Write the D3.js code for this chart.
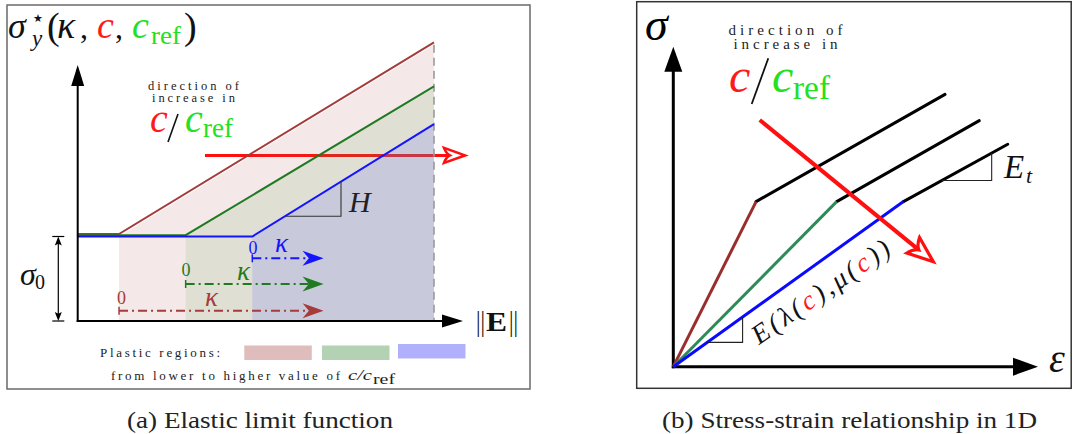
<!DOCTYPE html>
<html><head><meta charset="utf-8">
<script src="https://cdn.jsdelivr.net/npm/d3@7"></script>
<style>
html,body{margin:0;padding:0;background:#fff;}
svg{display:block;}
text{font-family:"Liberation Serif","Times New Roman",serif;}
text.sym{font-family:"DejaVu Sans",sans-serif;}
</style></head><body>
<svg id="fig" width="1073" height="434"></svg>
<script>
// ---------- panel (a): elastic limit function ----------
const regionNames   = ["lower", "middle", "higher"];   // value of c/c_ref
const plasticOnset  = [1.16, 3.03, 4.9];   // ||E|| at which κ starts (κ = 0)
const sigma0        = 1.0;                 // initial yield stress (unit)
const sigmaAtEnd    = [3.27, 2.76, 2.33];  // σ*_y reached at ||E||max
const normEMax      = 10;
const kappaEnd      = 6.9;                 // where the κ arrows stop
const regionLabels  = ["Plastic regions:", "from lower to higher value of"];

// ---------- panel (b): stress-strain in 1D ----------
const yieldStrain   = [22.7, 44.8, 63.1];
const yieldStress   = 51.6;
const endStrain     = [74.5, 83.9, 91.7];
const endStress     = [85.1, 76.9, 69.5];
const captions      = ["(a) Elastic limit function", "(b) Stress-strain relationship in 1D"];

const lineColA = ["#a53b3b", "#1f7a22", "#1414ff"];
const fillColA = ["rgba(176,64,64,0.12)", "rgba(70,165,65,0.12)", "rgba(104,114,255,0.20)"];
const swatchCol = ["#e0bdbd", "#b3d2b3", "#b1b1fb"];
const lineColB = ["#992e2e", "#2e8b57", "#0a0aff"];
const RED = "#ff1a1a", GREEN = "#22e022";

const svg = d3.select("#fig");

function filledHead(g, tip, ang, len, half, col, concave) {
  const c = Math.cos(ang), s = Math.sin(ang);
  const bx = tip[0] - len * c, by = tip[1] - len * s;
  const p1 = [bx - half * s, by + half * c], p2 = [bx + half * s, by - half * c];
  const m = [tip[0] - len * (1 - concave) * c, tip[1] - len * (1 - concave) * s];
  g.append("path").attr("d", `M${tip}L${p1}L${m}L${p2}Z`).attr("fill", col).attr("stroke", "none");
}
function openHead(g, tip, ang, len, half, col, w) {
  const c = Math.cos(ang), s = Math.sin(ang);
  const bx = tip[0] - len * c, by = tip[1] - len * s;
  const p1 = [bx - half * s, by + half * c], p2 = [bx + half * s, by - half * c];
  const m = [tip[0] - len * 0.72 * c, tip[1] - len * 0.72 * s];
  g.append("path").attr("d", `M${m}Q${[bx + 0.1*len*c - 0.25*half*s, by + 0.1*len*s + 0.25*half*c]} ${p1}L${tip}L${p2}Q${[bx + 0.1*len*c + 0.25*half*s, by + 0.1*len*s - 0.25*half*c]} ${m}Z`)
    .attr("fill", "#fff").attr("stroke", col).attr("stroke-width", w).attr("stroke-linejoin", "miter");
}
function txt(g, x, y, size, s, opts = {}) {
  const t = g.append("text").attr("x", x).attr("y", y).attr("font-size", size).attr("fill", opts.fill || "#111").text(s);
  if (opts.italic) t.attr("font-style", "italic");
  if (opts.bold) t.attr("font-weight", "bold");
  if (opts.anchor) t.attr("text-anchor", opts.anchor);
  if (opts.len) t.attr("textLength", opts.len).attr("lengthAdjust", "spacingAndGlyphs");
  return t;
}

// ================= PANEL (a) =================
const gA = svg.append("g");
gA.append("rect").attr("x", 7).attr("y", 5).attr("width", 523).attr("height", 384)
  .attr("fill", "none").attr("stroke", "#6a6a6a").attr("stroke-width", 1.5);

const xA = d3.scaleLinear().domain([0, normEMax]).range([77.7, 434]);
const yA = d3.scaleLinear().domain([0, 3]).range([321, 67.5]);
const lineA = d3.line().x(d => xA(d[0])).y(d => yA(d[1]));
const offA = [-2.4, -1.3, 0];

// direction-of-increase arrow (sits beneath the plastic regions)
const redY = yA(1.96);
gA.append("line").attr("x1", 205).attr("x2", 452).attr("y1", redY).attr("y2", redY)
  .attr("stroke", "#ff1010").attr("stroke-width", 3);
openHead(gA, [465, redY], 0, 21, 7.5, "#ff1010", 2.6);

// plastic regions
regionNames.forEach((n, i) => {
  const pts = [[plasticOnset[i], 0], [plasticOnset[i], sigma0], [normEMax, sigmaAtEnd[i]], [normEMax, 0]];
  gA.append("path").attr("d", lineA(pts) + "Z").attr("fill", fillColA[i]);
});
// limit of the loading range
gA.append("line").attr("x1", xA(normEMax)).attr("x2", xA(normEMax))
  .attr("y1", yA(sigmaAtEnd[0])).attr("y2", yA(0))
  .attr("stroke", "#9a9a9a").attr("stroke-width", 1.6).attr("stroke-dasharray", "8,5");

// elastic limit curves
regionNames.forEach((n, i) => {
  const pts = [[0, sigma0], [plasticOnset[i], sigma0], [normEMax, sigmaAtEnd[i]]];
  gA.append("path").attr("d", lineA(pts)).attr("transform", `translate(0,${offA[i]})`)
    .attr("fill", "none").attr("stroke", lineColA[i]).attr("stroke-width", 2);
});

// axes
gA.append("line").attr("x1", xA(0)).attr("x2", xA(0)).attr("y1", yA(0) + 1).attr("y2", 80)
  .attr("stroke", "#000").attr("stroke-width", 2);
filledHead(gA, [xA(0), 65], -Math.PI / 2, 21, 6.5, "#000", 0);
gA.append("line").attr("x1", xA(0) - 1).attr("x2", 448).attr("y1", yA(0)).attr("y2", yA(0))
  .attr("stroke", "#000").attr("stroke-width", 2);
filledHead(gA, [463, yA(0)], 0, 21, 6.5, "#000", 0);

// H slope triangle on the blue curve
{
  const i = 2, slope = (sigmaAtEnd[i] - sigma0) / (normEMax - plasticOnset[i]);
  const xa = 5.82, xb = 7.39;
  const ya = sigma0 + slope * (xa - plasticOnset[i]), yb = sigma0 + slope * (xb - plasticOnset[i]);
  gA.append("path").attr("d", `M${xA(xb)},${yA(yb)}L${xA(xb)},${yA(ya)}L${xA(xa)},${yA(ya)}`)
    .attr("fill", "none").attr("stroke", "#333").attr("stroke-width", 1.1);
  txt(gA, 349, 212, 30, "H", { italic: true, fill: "#222" });
}

// κ arrows starting at each plastic onset
const kappaY = [310.7, 284, 258.3];
const zeroLab = [[121.5, 304], [186, 276], [253, 253.5]];
const kapLab = [[205, 306], [237, 280], [275, 252]];
regionNames.forEach((n, i) => {
  const x0 = xA(plasticOnset[i]), x1 = xA(kappaEnd), y = kappaY[i];
  gA.append("line").attr("x1", x0).attr("x2", x1 - 14).attr("y1", y).attr("y2", y)
    .attr("stroke", lineColA[i]).attr("stroke-width", 2).attr("stroke-dasharray", "9,4,2,4");
  gA.append("line").attr("x1", x0).attr("x2", x0).attr("y1", y - 4).attr("y2", y + 4)
    .attr("stroke", lineColA[i]).attr("stroke-width", 1.5);
  filledHead(gA, [x1, y], 0, 21, 7.5, lineColA[i], 0.3);
  txt(gA, zeroLab[i][0], zeroLab[i][1], 18, "0", { anchor: "middle", fill: lineColA[i] });
  txt(gA, kapLab[i][0], kapLab[i][1], 27, "κ", { italic: true, fill: lineColA[i] });
});

// σ0 dimension
{
  const x = 58.3, yt = yA(sigma0), yb = yA(0);
  gA.append("line").attr("x1", x).attr("x2", x).attr("y1", yt + 4).attr("y2", yb - 4).attr("stroke", "#000").attr("stroke-width", 1.2);
  [yt, yb].forEach(y => gA.append("line").attr("x1", x - 6).attr("x2", x + 6).attr("y1", y).attr("y2", y).attr("stroke", "#000").attr("stroke-width", 1.2));
  filledHead(gA, [x, yt], -Math.PI / 2, 9, 3.5, "#000", 0.2);
  filledHead(gA, [x, yb], Math.PI / 2, 9, 3.5, "#000", 0.2);
  txt(gA, 20, 285, 32, "σ", { italic: true });
  txt(gA, 35, 289, 20, "0");
}

// vertical axis label
txt(gA, 8, 38, 36, "σ", { italic: true });
txt(gA, 33, 22, 11, "★").attr("class", "sym");
txt(gA, 32, 46, 23, "y", { italic: true });
txt(gA, 47, 39, 38, "(");
txt(gA, 57, 38, 38, "κ", { italic: true });
txt(gA, 80, 38, 32, ",");
txt(gA, 97, 38, 38, "c", { italic: true, fill: RED });
txt(gA, 115, 38, 32, ",");
txt(gA, 132, 38, 38, "c", { italic: true, fill: GREEN });
txt(gA, 151, 44, 26, "ref", { fill: GREEN, len: 30 });
txt(gA, 184, 39, 38, ")");

// horizontal axis label ||E||
txt(gA, 476, 331, 29, "||", { len: 9 });
txt(gA, 486, 331, 27, "E", { bold: true, len: 21 });
txt(gA, 509, 331, 29, "||", { len: 9 });

// direction annotation
function dirNote(g, cx, y1, y2, w1, w2, fs) {
  g.append("text").attr("x", cx - w1 / 2).attr("y", y1).attr("font-size", fs).attr("fill", "#222")
    .attr("textLength", w1).attr("lengthAdjust", "spacing").text("direction of");
  g.append("text").attr("x", cx - w2 / 2).attr("y", y2).attr("font-size", fs).attr("fill", "#222")
    .attr("textLength", w2).attr("lengthAdjust", "spacing").text("increase in");
}
dirNote(gA, 193.5, 89.5, 101.5, 91, 83, 12.5);
txt(gA, 150, 132, 40, "c", { italic: true, fill: RED });
gA.append("line").attr("x1", 168).attr("y1", 142).attr("x2", 178).attr("y2", 114).attr("stroke", "#111").attr("stroke-width", 1.6);
txt(gA, 185, 132, 40, "c", { italic: true, fill: GREEN });
txt(gA, 203, 137, 28, "ref", { fill: GREEN, len: 30 });

// legend
gA.append("text").attr("x", 100).attr("y", 357).attr("font-size", 13).attr("fill", "#222")
  .attr("textLength", 120).attr("lengthAdjust", "spacing").text(regionLabels[0]);
const swX = [244.3, 322, 398];
regionNames.forEach((n, i) => {
  gA.append("rect").attr("x", swX[i]).attr("y", 345.5 - (i === 2 ? 1.5 : 0)).attr("width", 67.5).attr("height", 14.5)
    .attr("fill", swatchCol[i]);
});
gA.append("text").attr("x", 111).attr("y", 380).attr("font-size", 13).attr("fill", "#222")
  .attr("textLength", 229).attr("lengthAdjust", "spacing").text(regionLabels[1]);
txt(gA, 348, 380, 14, "c/c", { italic: true, fill: "#222", len: 24 });
txt(gA, 373, 384, 14, "ref", { fill: "#222", len: 22 });

// ================= PANEL (b) =================
const gB = svg.append("g");
gB.append("rect").attr("x", 636.7).attr("y", 1.7).attr("width", 434.5).attr("height", 386.6)
  .attr("fill", "none").attr("stroke", "#333").attr("stroke-width", 1.5);

const xB = d3.scaleLinear().domain([0, 100]).range([673.3, 1038]);
const yB = d3.scaleLinear().domain([0, 100]).range([366.7, 46.7]);
const lineB = d3.line().x(d => xB(d[0])).y(d => yB(d[1]));

// axes
gB.append("line").attr("x1", xB(0)).attr("x2", xB(0)).attr("y1", yB(0) + 1.5).attr("y2", 66)
  .attr("stroke", "#000").attr("stroke-width", 3);
filledHead(gB, [xB(0), 46.7], -Math.PI / 2, 25, 9, "#000", 0);
gB.append("line").attr("x1", xB(0) - 1.5).attr("x2", 1018).attr("y1", yB(0)).attr("y2", yB(0))
  .attr("stroke", "#000").attr("stroke-width", 3);
filledHead(gB, [1038, yB(0)], 0, 25, 9, "#000", 0);

// plastic branches (tangent modulus E_t)
regionNames.forEach((n, i) => {
  gB.append("path").attr("d", lineB([[yieldStrain[i], yieldStress], [endStrain[i], endStress[i]]]))
    .attr("fill", "none").attr("stroke", "#000").attr("stroke-width", 3).attr("stroke-linecap", "round");
});
// elastic branches
regionNames.forEach((n, i) => {
  gB.append("path").attr("d", lineB([[0, 0], [yieldStrain[i], yieldStress]]))
    .attr("fill", "none").attr("stroke", lineColB[i]).attr("stroke-width", 3);
});

// slope triangles
function slopeTri(g, a, b, t0, t1) {
  const p = t => [a[0] + (b[0] - a[0]) * t, a[1] + (b[1] - a[1]) * t];
  const q0 = p(t0), q1 = p(t1);
  g.append("path").attr("d", `M${xB(q1[0])},${yB(q1[1])}L${xB(q1[0])},${yB(q0[1])}L${xB(q0[0])},${yB(q0[1])}`)
    .attr("fill", "none").attr("stroke", "#222").attr("stroke-width", 1.1);
}
{
  const i = 2;
  const a = [yieldStrain[i], yieldStress], b = [endStrain[i], endStress[i]];
  slopeTri(gB, a, b, (73.6 - a[0]) / (b[0] - a[0]), (87.3 - a[0]) / (b[0] - a[0]));
  slopeTri(gB, [0, 0], a, 9.3 / a[0], 19.0 / a[0]);
}
txt(gB, 1004, 178, 33, "E", { italic: true });
txt(gB, 1026, 183, 22, "t", { italic: true });

// rotated modulus label
{
  const t = gB.append("text").attr("transform", "translate(759,345) rotate(-34.6)")
    .attr("font-size", 27).attr("font-style", "italic").attr("fill", "#111")
    .attr("textLength", 162).attr("lengthAdjust", "spacing");
  t.append("tspan").text("E(λ(");
  t.append("tspan").attr("fill", RED).text("c");
  t.append("tspan").text("),μ(");
  t.append("tspan").attr("fill", RED).text("c");
  t.append("tspan").text("))");
}

// direction arrow
{
  const s = [xB(23.7), yB(77.1)], e = [xB(71.3), yB(32.8)];
  const ang = Math.atan2(e[1] - s[1], e[0] - s[0]);
  gB.append("line").attr("x1", s[0]).attr("y1", s[1])
    .attr("x2", e[0] - 18 * Math.cos(ang)).attr("y2", e[1] - 18 * Math.sin(ang))
    .attr("stroke", "#ff1010").attr("stroke-width", 4);
  openHead(gB, e, ang, 26, 10, "#ff1010", 3.2);
}

// labels
txt(gB, 645, 40, 46, "σ", { italic: true, fill: "#000" });
txt(gB, 1049, 372, 40, "ε", { italic: true });
dirNote(gB, 785.5, 35, 49, 114, 104, 15);
txt(gB, 729, 92, 48, "c", { italic: true, fill: RED });
gB.append("line").attr("x1", 751.7).attr("y1", 104).attr("x2", 768.3).attr("y2", 58.3).attr("stroke", "#111").attr("stroke-width", 1.8);
txt(gB, 772, 92, 48, "c", { italic: true, fill: GREEN });
txt(gB, 793, 99, 33, "ref", { fill: GREEN, len: 37 });

// captions
txt(svg, 127, 428, 23, captions[0], { fill: "#222", len: 266 });
txt(svg, 662, 428, 23, captions[1], { fill: "#222", len: 375 });
</script>
</body></html>
